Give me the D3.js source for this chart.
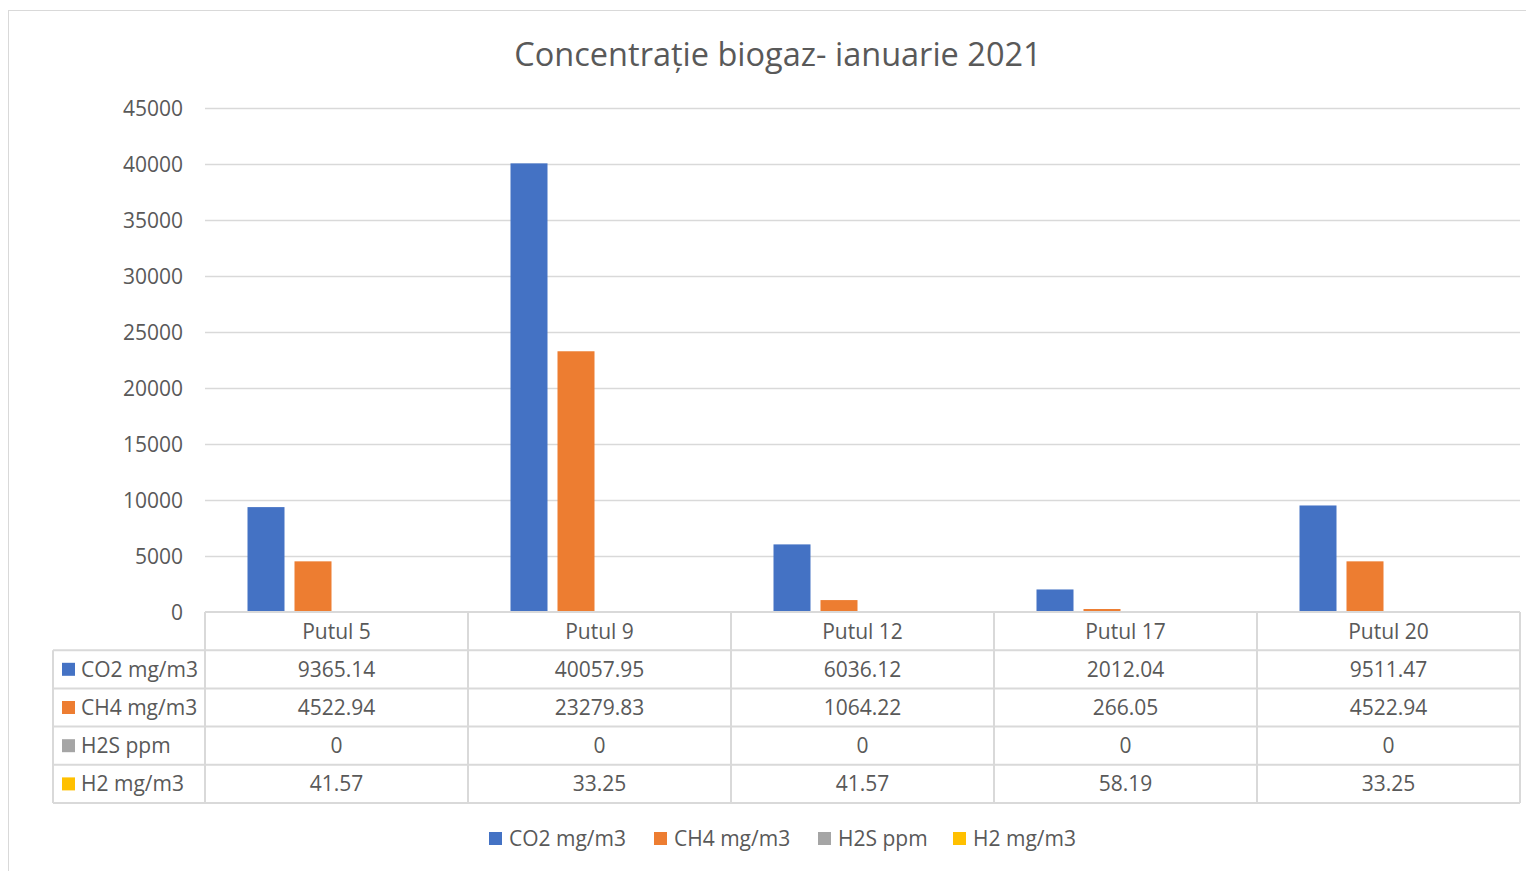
<!DOCTYPE html>
<html>
<head>
<meta charset="utf-8">
<script src="https://cdn.jsdelivr.net/npm/d3@7"></script>
<style>
  body { margin: 0; background: #fff; }
  text { font-family: "Open Sans", sans-serif; fill: #595959; }
</style>
</head>
<body>
<svg id="chart" width="1526" height="871"></svg>
<script>
const categories = ["Putul 5", "Putul 9", "Putul 12", "Putul 17", "Putul 20"];
const seriesNames = ["CO2 mg/m3", "CH4 mg/m3", "H2S ppm", "H2 mg/m3"];
const co2 = [9365.14, 40057.95, 6036.12, 2012.04, 9511.47];
const ch4 = [4522.94, 23279.83, 1064.22, 266.05, 4522.94];
const h2s = [0, 0, 0, 0, 0];
const h2 = [41.57, 33.25, 41.57, 58.19, 33.25];
const yTicks = [0, 5000, 10000, 15000, 20000, 25000, 30000, 35000, 40000, 45000];
const colors = ["#4472c4", "#ed7d31", "#a5a5a5", "#ffc000"];

const series = [co2, ch4, h2s, h2];

const svg = d3.select("#chart");
const plotLeft = 205, plotRight = 1520, plotTop = 108, plotBottom = 612;
const rowH = 38.2;
const tableLeft = 53;
const grid = "#d9d9d9";
const fs = "21px";

// outer chart border
svg.append("rect")
  .attr("x", 8.5).attr("y", 10.5)
  .attr("width", 1530).attr("height", 900)
  .attr("fill", "none").attr("stroke", grid);

svg.append("text")
  .attr("x", 778).attr("y", 66)
  .attr("text-anchor", "middle")
  .style("font-size", "32.5px")
  .text("Concentrație biogaz- ianuarie 2021");

const x = d3.scaleBand().domain(categories).range([plotLeft, plotRight]);
const y = d3.scaleLinear().domain([0, 45000]).range([plotBottom, plotTop]);

// gridlines
svg.append("g").selectAll("line")
  .data(yTicks.slice(1))
  .join("line")
  .attr("x1", plotLeft).attr("x2", plotRight)
  .attr("y1", d => Math.round(y(d)) + 0.5).attr("y2", d => Math.round(y(d)) + 0.5)
  .attr("stroke", grid).attr("stroke-width", 1.3);

const yAxis = svg.append("g")
  .attr("transform", `translate(${plotLeft - 22},1)`)
  .call(d3.axisLeft(y).tickValues(yTicks).tickFormat(d3.format("d")).tickSize(0).tickPadding(0));
yAxis.select(".domain").remove();
yAxis.selectAll("text")
  .style("font-size", fs)
  .style("font-family", "Open Sans, sans-serif")
  .attr("fill", "#595959");

// bars
const bw = 37, gap = 10;
const inner = d3.scaleBand().domain(d3.range(4))
  .range([0, 4 * bw + 3 * gap]).paddingInner(gap / (bw + gap));
const groupOffset = (x.bandwidth() - (4 * bw + 3 * gap)) / 2;

series.forEach((vals, s) => {
  svg.append("g").selectAll("rect")
    .data(vals)
    .join("rect")
    .attr("x", (d, i) => x(categories[i]) + groupOffset + inner(s))
    .attr("width", inner.bandwidth())
    .attr("y", d => y(d))
    .attr("height", d => y(0) - y(d))
    .attr("fill", colors[s]);
});

// data table
const tbl = svg.append("g");
const rowY = i => plotBottom + i * rowH;
const nRows = seriesNames.length + 1;
// horizontal lines
d3.range(nRows + 1).forEach(i => {
  tbl.append("line")
    .attr("x1", i < 1 ? plotLeft : tableLeft).attr("x2", plotRight)
    .attr("y1", rowY(i)).attr("y2", rowY(i))
    .attr("stroke", grid).attr("stroke-width", 2);
});
// vertical lines
tbl.append("line")
  .attr("x1", tableLeft).attr("x2", tableLeft)
  .attr("y1", rowY(1)).attr("y2", rowY(nRows))
  .attr("stroke", grid).attr("stroke-width", 2);
categories.concat(["end"]).forEach((c, i) => {
  const xx = plotLeft + i * x.bandwidth();
  tbl.append("line")
    .attr("x1", xx).attr("x2", xx)
    .attr("y1", rowY(0)).attr("y2", rowY(nRows))
    .attr("stroke", grid).attr("stroke-width", 2);
});
// header
tbl.selectAll("text.head")
  .data(categories)
  .join("text")
  .attr("class", "head")
  .attr("x", d => x(d) + x.bandwidth() / 2)
  .attr("y", rowY(0) + rowH / 2 + 7.5)
  .attr("text-anchor", "middle")
  .style("font-size", fs)
  .text(d => d);
// rows
series.forEach((vals, s) => {
  const cy = rowY(s + 1) + rowH / 2;
  tbl.append("rect")
    .attr("x", 62).attr("y", cy - 6.5)
    .attr("width", 13).attr("height", 13)
    .attr("fill", colors[s]);
  tbl.append("text")
    .attr("x", 81).attr("y", cy + 7.5)
    .style("font-size", fs)
    .text(seriesNames[s]);
  tbl.append("g").selectAll("text")
    .data(vals)
    .join("text")
    .attr("x", (d, i) => x(categories[i]) + x.bandwidth() / 2)
    .attr("y", cy + 7.5)
    .attr("text-anchor", "middle")
    .style("font-size", fs)
    .text(d => String(d));
});

// legend
const legendX = [489, 654, 818, 953];
const legend = svg.append("g");
seriesNames.forEach((n, s) => {
  legend.append("rect")
    .attr("x", legendX[s]).attr("y", 832)
    .attr("width", 13).attr("height", 13)
    .attr("fill", colors[s]);
  legend.append("text")
    .attr("x", legendX[s] + 20).attr("y", 846)
    .style("font-size", fs)
    .text(n);
});
</script>
</body>
</html>
